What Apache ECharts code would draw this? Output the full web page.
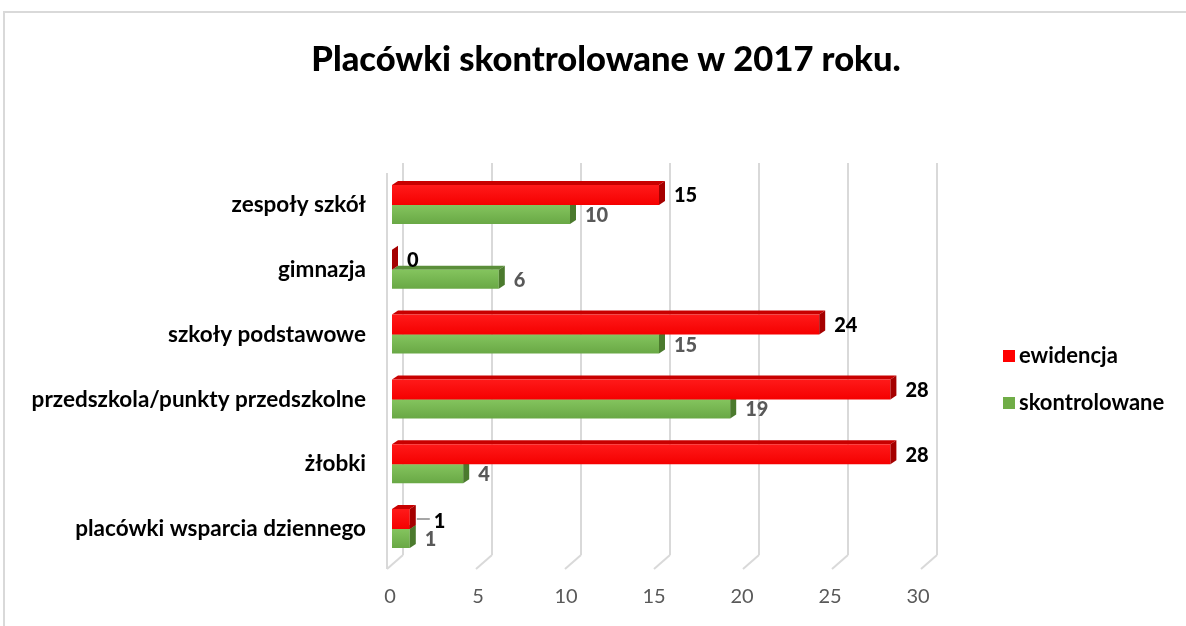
<!DOCTYPE html>
<html>
<head>
<meta charset="utf-8">
<script src="https://cdn.jsdelivr.net/npm/echarts@6/dist/echarts.min.js"></script>
<style>
  html, body { margin: 0; padding: 0; background: #ffffff; }
  #chart { width: 1186px; height: 626px; }
</style>
</head>
<body>
<div id="chart"></div>
<script>
// Categories (top to bottom) and the two series
const categories = [
  'zespoły szkół',
  'gimnazja',
  'szkoły podstawowe',
  'przedszkola/punkty przedszkolne',
  'żłobki',
  'placówki wsparcia dziennego'
];
const ewidencja = [15, 0, 24, 28, 28, 1];
const skontrolowane = [10, 6, 15, 19, 4, 1];
const xTicks = [0, 5, 10, 15, 20, 25, 30];
const seriesNames = ['ewidencja', 'skontrolowane'];
const titleText = 'Placówki skontrolowane w 2017 roku.';

const FONT = 'Lato, "Noto Sans", sans-serif';

// 3D depth of each bar (towards the back wall)
const DX = 6, DY = 4;

// Face colours of the extruded bars
const faces = {
  red: {
    front: new echarts.graphic.LinearGradient(0, 0, 0, 1, [
      { offset: 0, color: '#ff1a1a' }, { offset: 1, color: '#f50000' }
    ]),
    top: '#c80000', side: '#a50000', label: '#000000', legend: '#ff0000'
  },
  green: {
    front: new echarts.graphic.LinearGradient(0, 0, 0, 1, [
      { offset: 0, color: '#84c45e' }, { offset: 1, color: '#69a845' }
    ]),
    top: '#5b8e3a', side: '#4b7a2d', label: '#595959', legend: '#70ad47'
  }
};

// Value labels moved sideways with a short leader line
const leaderCategories = new Set(['placówki wsparcia dziennego']);

function barRenderer(palette, isUpper) {
  return function (params, api) {
    const val = api.value(0);
    const cat = api.value(1);
    const p0 = api.coord([0, cat]);
    const p1 = api.coord([val, cat]);
    const x0 = p0[0], x1 = p1[0], cy = p0[1];
    const yTop = isUpper ? cy - 20 : cy;
    const yBot = isUpper ? cy : cy + 19;
    const children = [];
    // top face
    children.push({
      type: 'polygon',
      shape: { points: [[x0, yTop], [x0 + DX, yTop - DY], [x1 + DX, yTop - DY], [x1, yTop]] },
      style: { fill: palette.top }
    });
    // front face
    if (x1 > x0) {
      children.push({
        type: 'rect',
        shape: { x: x0, y: yTop, width: x1 - x0, height: yBot - yTop },
        style: { fill: palette.front }
      });
    }
    // side face
    children.push({
      type: 'polygon',
      shape: { points: [[x1, yTop], [x1 + DX, yTop - DY], [x1 + DX, yBot - DY], [x1, yBot]] },
      style: { fill: palette.side }
    });
    // value label
    const cy2 = (yTop + yBot) / 2 + 1;
    let lx = x1 + 15;
    let ly = cy2;
    if (isUpper && leaderCategories.has(categories[cat])) {
      children.push({
        type: 'line',
        shape: { x1: x1 + DX + 1, y1: cy2 - 1, x2: x1 + DX + 14, y2: cy2 - 1 },
        style: { stroke: '#a6a6a6', lineWidth: 2 }
      });
      lx = x1 + 24;
      ly = cy2 + 2;
    }
    children.push({
      type: 'text',
      x: lx, y: ly,
      style: {
        text: String(val),
        fill: palette.label,
        fontFamily: FONT,
        fontWeight: 900,
        fontSize: 20,
        align: 'left',
        verticalAlign: 'middle'
      }
    });
    return { type: 'group', children: children };
  };
}

// Floor lines running from the back wall to the front edge, plus the left wall edge
function floorRenderer(params, api) {
  const v = api.value(0);
  const pb = api.coord([v, 0]);
  const children = [{
    type: 'line',
    shape: { x1: pb[0], y1: pb[1], x2: pb[0] - 16, y2: pb[1] + 14 },
    style: { stroke: '#d9d9d9', lineWidth: 2 }
  }];
  if (v === 0) {
    children.push({
      type: 'line',
      shape: { x1: pb[0] - 16, y1: params.coordSys.y + 10, x2: pb[0] - 16, y2: pb[1] + 14 },
      style: { stroke: '#d9d9d9', lineWidth: 2 }
    });
  }
  return { type: 'group', children: children };
}

const chart = echarts.init(document.getElementById('chart'), null, { renderer: 'canvas' });

const option = {
  backgroundColor: '#ffffff',
  animation: false,
  title: {
    text: titleText,
    left: 601,
    top: 37,
    textAlign: 'center',
    textStyle: { fontFamily: FONT, fontWeight: 900, fontSize: 34.5, color: '#000000' }
  },
  graphic: [{
    type: 'rect',
    shape: { x: 4, y: 12, width: 1200, height: 640 },
    style: { fill: 'none', stroke: '#d9d9d9', lineWidth: 2 },
    silent: true,
    z: -10
  }],
  legend: {
    orient: 'vertical',
    left: 1003,
    top: 345,
    padding: 0,
    itemWidth: 12,
    itemHeight: 12,
    itemGap: 25,
    icon: 'rect',
    data: seriesNames,
    textStyle: { fontFamily: FONT, fontWeight: 'bold', fontSize: 22, color: '#000000', padding: [0, 0, 0, -1] }
  },
  grid: [
    // back wall
    { left: 403, right: 249, top: 163, bottom: 71 },
    // bars
    { left: 392, right: 260, top: 172.6, bottom: 64.6 },
    // floor front edge with tick labels
    { left: 390, right: 268, top: 163, bottom: 57 }
  ],
  xAxis: [
    {
      gridIndex: 0, type: 'value', min: 0, max: 30, interval: 5,
      axisLine: { show: false }, axisTick: { show: false }, axisLabel: { show: false },
      splitLine: { show: true, lineStyle: { color: '#d9d9d9', width: 2 } }
    },
    {
      gridIndex: 1, type: 'value', min: 0, max: 30, interval: 5,
      axisLine: { show: false }, axisTick: { show: false }, axisLabel: { show: false },
      splitLine: { show: false }
    },
    {
      gridIndex: 2, type: 'value', min: 0, max: 30, interval: 5,
      axisLine: { show: false }, axisTick: { show: false }, splitLine: { show: false },
      axisLabel: { margin: 18, fontFamily: FONT, fontSize: 20, color: '#595959' }
    }
  ],
  yAxis: [
    { gridIndex: 0, type: 'value', min: 0, max: 1, show: false },
    {
      gridIndex: 1, type: 'category', inverse: true, data: categories,
      axisLine: { show: false }, axisTick: { show: false }, splitLine: { show: false },
      axisLabel: {
        margin: 26, fontFamily: FONT, fontWeight: 'bold', fontSize: 22.5, color: '#000000',
        padding: [14, 0, 0, 0]
      }
    },
    { gridIndex: 2, type: 'value', min: 0, max: 1, show: false }
  ],
  series: [
    {
      type: 'custom',
      name: 'floor',
      xAxisIndex: 0, yAxisIndex: 0,
      data: xTicks.map(v => [v]),
      encode: { x: 0 },
      renderItem: floorRenderer,
      silent: true,
      clip: false,
      z: 1
    },
    {
      type: 'custom',
      name: seriesNames[1],
      xAxisIndex: 1, yAxisIndex: 1,
      data: skontrolowane.map((v, i) => [v, i]),
      encode: { x: 0, y: 1 },
      renderItem: barRenderer(faces.green, false),
      itemStyle: { color: faces.green.legend },
      clip: false,
      z: 2
    },
    {
      type: 'custom',
      name: seriesNames[0],
      xAxisIndex: 1, yAxisIndex: 1,
      data: ewidencja.map((v, i) => [v, i]),
      encode: { x: 0, y: 1 },
      renderItem: barRenderer(faces.red, true),
      itemStyle: { color: faces.red.legend },
      clip: false,
      z: 3
    }
  ]
};

chart.setOption(option);
</script>
</body>
</html>
